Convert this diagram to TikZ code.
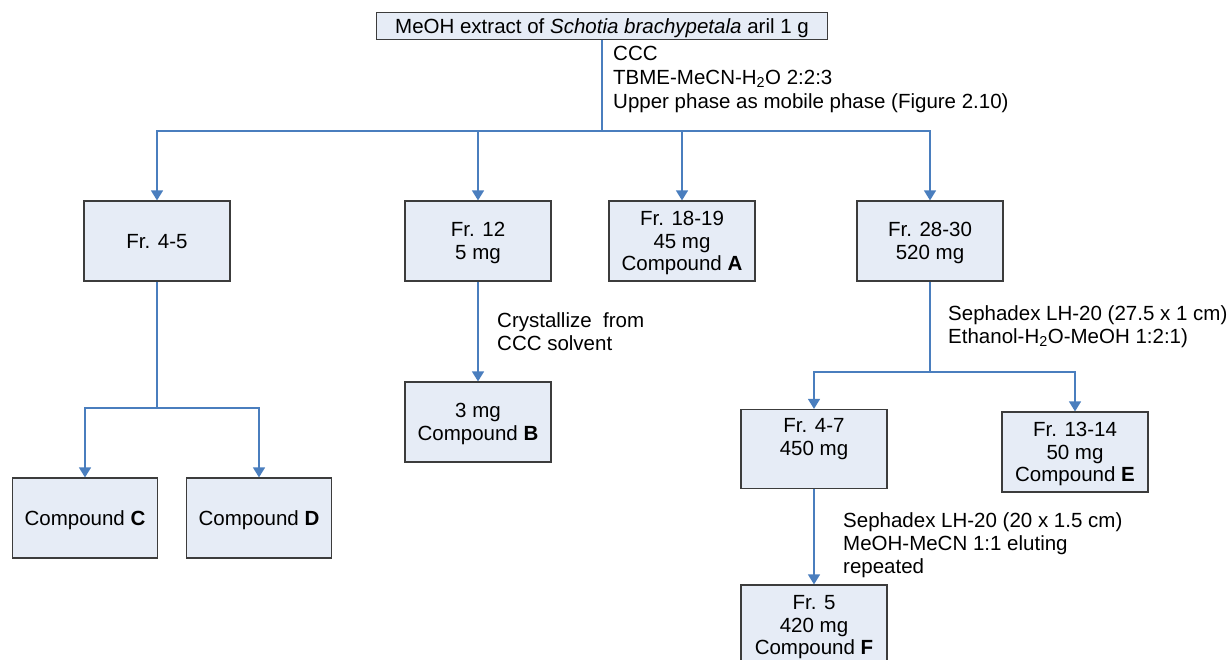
\documentclass[tikz,border=0pt]{standalone}
\usepackage{fontspec}
\setmainfont{Liberation Sans}
\usetikzlibrary{arrows.meta}
\definecolor{boxfill}{RGB}{230,236,246}
\definecolor{flowblue}{RGB}{74,126,190}
\definecolor{boxline}{RGB}{60,60,60}
\pgfdeclarelayer{bg}
\pgfsetlayers{bg,main}
\tikzset{
    every node/.style={inner sep=0pt, font=\fontsize{20.5pt}{22.8pt}\selectfont},
    frbox/.style={rectangle, draw=boxline, line width=1.2pt, fill=boxfill, align=center,
        minimum width=146pt, minimum height=80pt, text depth=0pt},
    note/.style={anchor=west, align=left},
    flow/.style={draw=flowblue, line width=1.4pt, -{Triangle[width=12pt,length=10pt]}},
    link/.style={draw=flowblue, line width=1.4pt}
}

\begin{document}
\begin{tikzpicture}
        \useasboundingbox (0pt,0pt) rectangle (1229pt,-660pt);
        \node (ext) [frbox, minimum width=451pt, minimum height=27pt] at (602pt, -26pt) {MeOH extract of \textit{Schotia brachypetala} aril 1 g};
        \node (f45) [frbox] at (157pt, -241pt) {Fr. 4-5};
        \node (f12) [frbox] at (478pt, -241pt) {Fr. 12\\5 mg};
        \node (f1819) [frbox] at (682pt, -241pt) {Fr. 18-19\\45 mg\\Compound \textbf{A}};
        \node (f2830) [frbox] at (930pt, -241pt) {Fr. 28-30\\520 mg};
        \node (cpdC) [frbox, minimum width=145pt] at (85pt, -518pt) {Compound \textbf{C}};
        \node (cpdD) [frbox, minimum width=145pt] at (259pt, -518pt) {Compound \textbf{D}};
        \node (cpdB) [frbox] at (478pt, -422pt) {3 mg\\Compound \textbf{B}};
        \node (f47) [frbox, minimum height=79pt] at (814pt, -449pt) {Fr. 4-7\\450 mg\\[2pt]\strut};
        \node (f1314) [frbox] at (1075pt, -452pt) {Fr. 13-14\\50 mg\\Compound \textbf{E}};
        \node (f5) [frbox] at (814pt, -625pt) {Fr. 5\\420 mg\\Compound \textbf{F}};
        \node (ccc) [note] at (613pt, -79.5pt) {CCC\\[0.8pt]TBME-MeCN-H\textsubscript{2}O 2:2:3\\[0.8pt]Upper phase as mobile phase (Figure 2.10)};
        \node (cryst) [note] at (497pt, -332pt) {Crystallize\ \ from\\CCC solvent};
        \node (seph1) [note] at (948pt, -327pt) {Sephadex LH-20 (27.5 x 1 cm)\\Ethanol-H\textsubscript{2}O-MeOH 1:2:1)};
        \node (seph2) [note] at (843pt, -545pt) {Sephadex LH-20 (20 x 1.5 cm)\\MeOH-MeCN 1:1 eluting\\repeated};
        \coordinate (s1) at (602pt, -131pt);
        \coordinate (s2) at (157pt, -408pt);
        \coordinate (s3) at (930pt, -372pt);
        \begin{pgfonlayer}{bg}
                \draw [link] (ext) -- (s1);
                \draw [flow] (s1) -| (f45);
                \draw [flow] (s1) -| (f12);
                \draw [flow] (s1) -| (f1819);
                \draw [flow] (s1) -| (f2830);
                \draw [link] (f45) -- (s2);
                \draw [flow] (s2) -| (cpdC);
                \draw [flow] (s2) -| (cpdD);
                \draw [flow] (f12) -- (cpdB);
                \draw [link] (f2830) -- (s3);
                \draw [flow] (s3) -| (f47);
                \draw [flow] (s3) -| (f1314);
                \draw [flow] (f47) -- (f5);
        \end{pgfonlayer}
\end{tikzpicture}
\end{document}
